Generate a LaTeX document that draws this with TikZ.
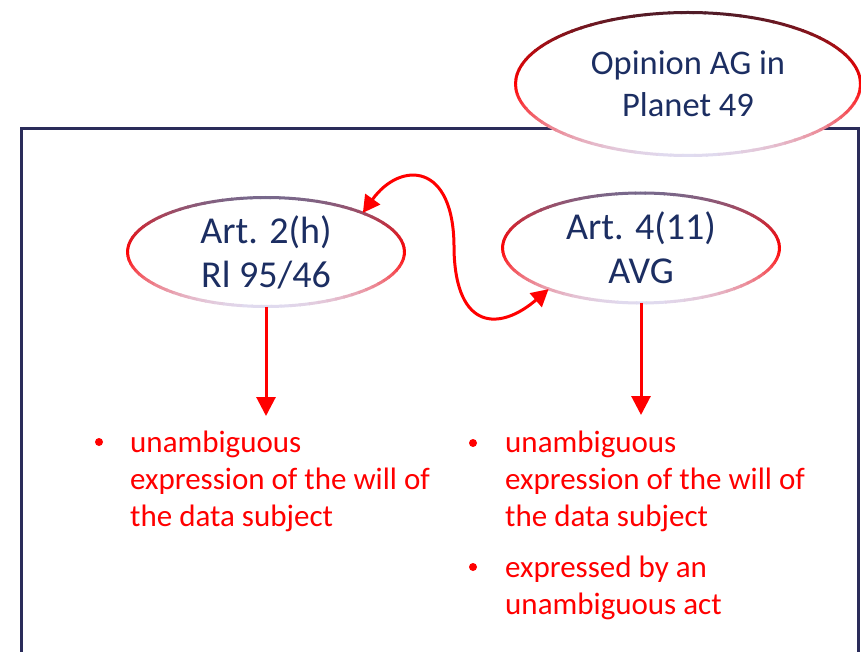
\documentclass[tikz,border=0pt]{standalone}
\usepackage{fontspec}
\setmainfont{Carlito}
\usetikzlibrary{arrows.meta,shapes.geometric}

\definecolor{boxnavy}{RGB}{42,44,90}
\definecolor{textnavy}{RGB}{28,46,98}
\definecolor{ringdark}{RGB}{80,28,40}
\definecolor{ringgrey}{RGB}{120,105,140}
\definecolor{ringpale}{RGB}{224,220,240}

\begin{document}
\begin{tikzpicture}[x=1pt, y=1pt,
    law/.style={ellipse, inner sep=0pt, fill=white},
    lawtext/.style={font=\fontsize{38}{44}\selectfont, text=textnavy, align=center},
    itemtext/.style={font=\fontsize{31}{37}\selectfont, text=red, align=left, anchor=base west, inner sep=0pt},
    dot/.style={circle, fill=red, inner sep=0pt, minimum size=8pt},
    link/.style={red, line width=3pt}]

    \useasboundingbox (0,0) rectangle (861,651);

    % Frame
    \draw[boxnavy, line width=3pt] (21,-10) -- (21,522) -- (858,522) -- (858,-10);

    % Ellipses
    \node[law, minimum width=345pt, minimum height=143pt] (opinion) at (688,567) {};
    \node[law, minimum width=277pt, minimum height=109pt] (lawA) at (266,399) {};
    \node[law, minimum width=277pt, minimum height=110pt] (lawB) at (641,403) {};

    % Shaded outlines
    \foreach \el/\rx/\ry/\tc in {opinion/172.5/71.5/ringdark, lawA/138.5/54.5/ringgrey, lawB/138.5/55/ringgrey}
        \foreach \a in {0,4,...,356}{
            \pgfmathsetmacro\s{sin(\a+2)}
            \pgfmathtruncatemacro\p{100*abs(\s)}
            \ifdim\s pt>0pt \def\ringcol{\tc!\p!red}\else\def\ringcol{ringpale!\p!red}\fi
            \draw[line width=3pt, color=\ringcol]
                ([shift={(\a:\rx pt and \ry pt)}]\el.center)
                arc[start angle=\a, end angle=\a+4.5, x radius=\rx pt, y radius=\ry pt];
        }

    % Labels
    \node[lawtext, font=\fontsize{34.5}{42}\selectfont] (opiniontxt) at (opinion) {Opinion AG in\\Planet 49};
    \node[lawtext] (lawAtxt) at (lawA) {Art. 2(h)\\Rl 95/46};
    \node[lawtext] (lawBtxt) at (lawB) {Art. 4(11)\\AVG};

    % Arrows
    \coordinate (dropA) at (266,235);
    \coordinate (dropB) at (641,236);
    \coordinate (swing) at (454,401);
    \draw[link, -{Triangle[width=19pt,length=19pt]}] (lawA.south) -- (dropA);
    \draw[link, -{Triangle[width=19pt,length=19pt]}] (lawB.south) -- (dropB);
    \draw[link, {Triangle[width=18pt,length=17pt]}-{Triangle[width=18pt,length=17pt]}]
        (lawA.22) .. controls (400,490) and (455,490) .. (swing)
        .. controls (456,320) and (500,320) .. (lawB.204);

    % Bullet points
    \node[dot] (dotA) at (99,209) {};
    \node[itemtext] (itemA) at (130,125) {unambiguous\\expression of the will of\\the data subject};
    \node[dot] (dotB) at (473,208) {};
    \node[itemtext] (itemB) at (505,125) {unambiguous\\expression of the will of\\the data subject};
    \node[dot] (dotC) at (473,84) {};
    \node[itemtext] (itemC) at (505,37) {expressed by an\\unambiguous act};

\end{tikzpicture}
\end{document}
